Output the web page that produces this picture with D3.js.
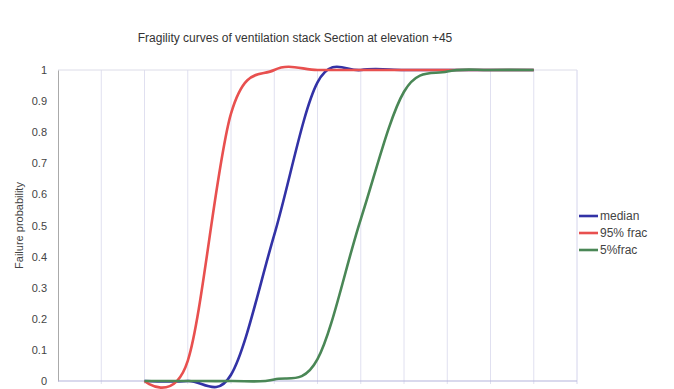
<!DOCTYPE html>
<html>
<head>
<meta charset="utf-8">
<script src="https://cdn.jsdelivr.net/npm/d3@7"></script>
<style>
  body { margin: 0; background: #fff; }
  text { font-family: "Liberation Sans", Arial, sans-serif; }
</style>
</head>
<body>
<div id="chart"></div>
<script>
// Category positions on the x axis (no labels shown in the picture)
const steps = [2, 3, 4, 5, 6, 7, 8, 9, 10, 11];

// Series values
const median = [0, 0, 0.02, 0.47, 0.96, 1.0, 1.0, 1.0, 1.0, 1.0];
const frac95 = [0, 0.065, 0.86, 1.0, 1.0, 1.0, 1.0, 1.0, 1.0, 1.0];
const frac5 = [0, 0, 0, 0.005, 0.07, 0.52, 0.93, 0.995, 1.0, 1.0];

const yTicks = [0, 0.1, 0.2, 0.3, 0.4, 0.5, 0.6, 0.7, 0.8, 0.9, 1];
const gridSteps = [1, 2, 3, 4, 5, 6, 7, 8, 9, 10, 11, 12];

const seriesNames = ["median", "95% frac", "5%frac"];
const seriesColors = ["#3232a6", "#e8504f", "#4a8756"];
const seriesData = [median, frac95, frac5];

// SVG dimensions
const svgWidth = 674;
const svgHeight = 389;

const svg = d3.select("#chart")
  .append("svg")
  .attr("width", svgWidth)
  .attr("height", svgHeight);

// plot area
const plotLeft = 58, plotRight = 577, plotTop = 70, plotBottom = 381;

const x = d3.scaleLinear().domain([0, 12]).range([plotLeft, plotRight]);
const y = d3.scaleLinear().domain([0, 1]).range([plotBottom, plotTop]);

// Title
svg.append("text")
  .attr("x", 295)
  .attr("y", 42)
  .attr("text-anchor", "middle")
  .style("font-size", "12px")
  .style("fill", "#333")
  .text("Fragility curves of ventilation stack Section at elevation +45");

// vertical gridlines
svg.append("g")
  .selectAll("line")
  .data(gridSteps)
  .enter()
  .append("line")
  .attr("x1", d => x(d))
  .attr("x2", d => x(d))
  .attr("y1", plotTop)
  .attr("y2", plotBottom + 3)
  .style("stroke", d => d === 12 ? "#d4d4ec" : "#e0e0f0")
  .style("stroke-width", 1);

// top border
svg.append("line")
  .attr("x1", plotLeft).attr("x2", plotRight)
  .attr("y1", plotTop).attr("y2", plotTop)
  .style("stroke", "#dcdce8");

// y axis
const yAxis = d3.axisLeft(y)
  .tickValues(yTicks)
  .tickSize(0)
  .tickPadding(11)
  .tickFormat(d => d === 0 || d === 1 ? d3.format("d")(d) : d3.format(".1f")(d));

const gy = svg.append("g")
  .attr("transform", `translate(${plotLeft},0)`)
  .call(yAxis);
gy.select(".domain").style("stroke", "#aaa");
gy.selectAll("text")
  .style("font-size", "11px")
  .style("fill", "#444")
  .style("font-family", "Liberation Sans, Arial, sans-serif");

// x axis line
svg.append("line")
  .attr("x1", plotLeft).attr("x2", plotRight)
  .attr("y1", plotBottom).attr("y2", plotBottom)
  .style("stroke", "#b4b4dc")
  .style("stroke-width", 1.2);

// y label
svg.append("text")
  .attr("transform", `translate(23,${(plotTop + plotBottom) / 2}) rotate(-90)`)
  .attr("text-anchor", "middle")
  .style("font-size", "11px")
  .style("fill", "#444")
  .text("Failure probability");

// Lines (Excel-style smoothing ~ uniform Catmull-Rom)
const lineGen = d3.line()
  .x(d => x(d[0]))
  .y(d => y(d[1]))
  .curve(d3.curveCardinal.tension(0));

svg.append("g")
  .selectAll("path")
  .data(seriesData)
  .enter()
  .append("path")
  .attr("d", d => lineGen(steps.map((s, i) => [s, d[i]])))
  .style("fill", "none")
  .style("stroke", (d, i) => seriesColors[i])
  .style("stroke-width", 2.6)
  .style("stroke-linejoin", "round");

// Legend
const legend = svg.append("g");
seriesNames.forEach((name, i) => {
  const ly = 216 + i * 17;
  legend.append("line")
    .attr("x1", 579).attr("x2", 598)
    .attr("y1", ly).attr("y2", ly)
    .style("stroke", seriesColors[i])
    .style("stroke-width", 2.6);
  legend.append("text")
    .attr("x", 600)
    .attr("y", ly + 4)
    .style("font-size", "12px")
    .style("fill", "#444")
    .text(name);
});
</script>
</body>
</html>
